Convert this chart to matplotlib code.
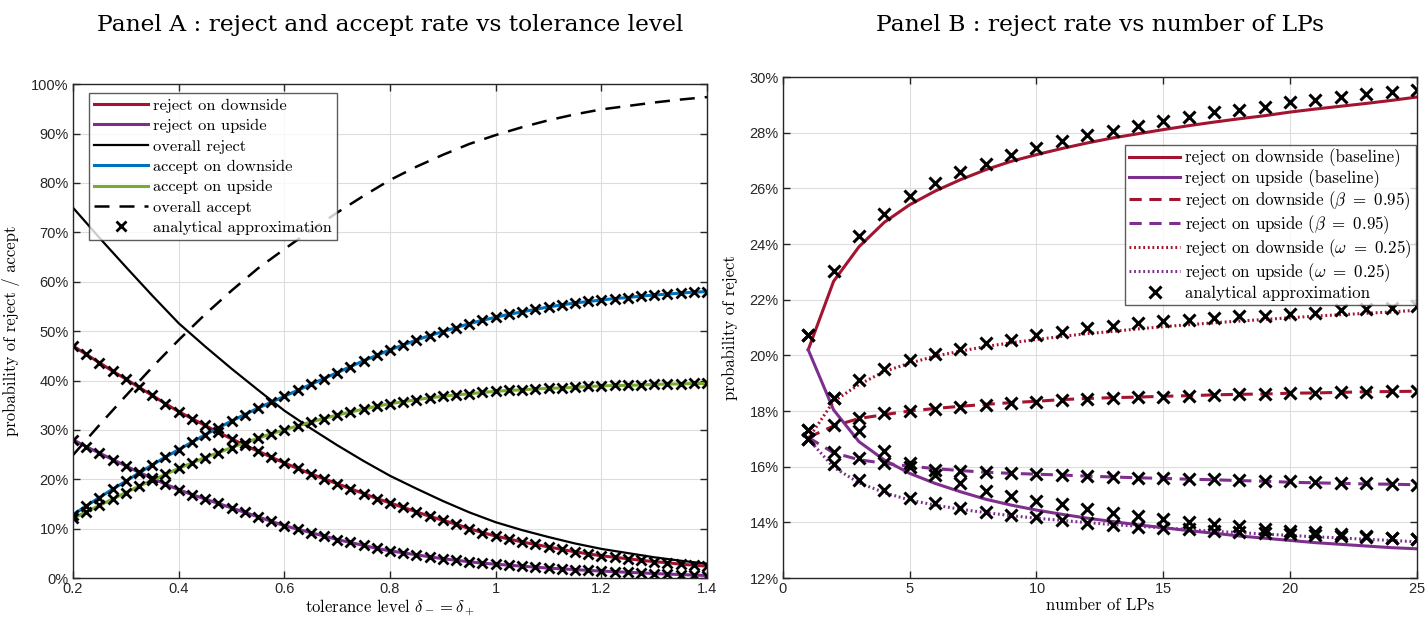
import numpy as np
import matplotlib
matplotlib.use('Agg')
import matplotlib.pyplot as plt
from matplotlib.ticker import FuncFormatter

plt.rcParams['mathtext.fontset'] = 'cm'
plt.rcParams['axes.formatter.use_mathtext'] = True

# ---- Panel A data (percent) ----
tol = [0.2 + 0.025 * i for i in range(49)]
rej_down = [47.0, 45.3, 43.6, 41.9, 40.3, 38.6, 37.0, 35.3, 33.7, 32.3, 30.9, 29.5, 28.2,
            26.9, 25.7, 24.5, 23.3, 22.2, 21.1, 20.1, 19.1, 18.1, 17.1, 16.1, 15.2, 14.3,
            13.4, 12.5, 11.7, 10.9, 10.0, 9.2, 8.5, 7.9, 7.3, 6.8, 6.3, 5.8, 5.3, 4.9,
            4.5, 4.2, 3.9, 3.6, 3.3, 3.1, 2.8, 2.6, 2.4]
rej_up = [28.0, 26.6, 25.3, 24.0, 22.7, 21.4, 20.2, 19.0, 17.9, 16.9, 16.0, 15.1, 14.2,
          13.3, 12.4, 11.5, 10.6, 9.9, 9.2, 8.5, 7.8, 7.2, 6.6, 6.0, 5.5, 5.1,
          4.7, 4.3, 3.9, 3.6, 3.3, 3.0, 2.8, 2.6, 2.4, 2.2, 2.0, 1.85, 1.7, 1.55,
          1.4, 1.3, 1.15, 1.05, 0.9, 0.8, 0.7, 0.6, 0.5]
acc_down = [12.8, 14.6, 16.3, 18.0, 19.6, 21.3, 22.9, 24.5, 26.0, 27.5, 29.0, 30.4, 31.8,
            33.1, 34.4, 35.6, 36.8, 38.0, 39.2, 40.4, 41.6, 42.8, 44.0, 45.1, 46.2, 47.2,
            48.2, 49.1, 49.9, 50.7, 51.5, 52.2, 52.8, 53.4, 53.9, 54.4, 54.9, 55.3, 55.7, 56.0,
            56.3, 56.6, 56.8, 57.1, 57.3, 57.5, 57.7, 57.9, 58.0]
acc_up = [12.1, 13.4, 14.7, 16.0, 17.3, 18.6, 19.8, 21.0, 22.2, 23.3, 24.4, 25.4, 26.4,
          27.4, 28.3, 29.2, 30.0, 30.8, 31.6, 32.3, 33.0, 33.6, 34.2, 34.8, 35.3, 35.7,
          36.1, 36.5, 36.8, 37.1, 37.3, 37.6, 37.8, 38.0, 38.1, 38.3, 38.4, 38.5, 38.6, 38.8,
          38.9, 39.0, 39.0, 39.1, 39.2, 39.3, 39.3, 39.4, 39.4]
tol_coarse = [0.2 + 0.05 * i for i in range(25)]
overall_rej = [75.0, 68.9, 63.0, 57.2, 51.6, 46.9, 42.4, 38.1, 33.9, 30.3, 26.9, 23.7, 20.7,
               18.1, 15.6, 13.3, 11.3, 9.7, 8.3, 7.0, 5.9, 5.05, 4.2, 3.5, 2.9]
overall_acc = [24.9, 31.0, 36.9, 42.7, 48.2, 53.4, 58.2, 62.7, 66.6, 70.4, 74.0, 77.4, 80.6,
               83.3, 85.7, 87.9, 89.7, 91.3, 92.7, 93.9, 94.9, 95.6, 96.3, 96.9, 97.4]

# ---- Panel B data (percent) ----
n_lp = list(range(1, 26))
down_base = [20.2, 22.66, 23.9, 24.78, 25.41, 25.9, 26.31, 26.67, 26.97, 27.21, 27.43, 27.63, 27.81,
             27.96, 28.11, 28.25, 28.38, 28.50, 28.61, 28.74, 28.85, 28.95, 29.05, 29.16, 29.28]
down_base_mk = [20.73, 23.02, 24.27, 25.09, 25.71, 26.19, 26.57, 26.87, 27.19, 27.45, 27.71, 27.92, 28.05,
                28.25, 28.43, 28.56, 28.73, 28.83, 28.92, 29.09, 29.19, 29.28, 29.40, 29.45, 29.54]
up_base = [20.2, 18.04, 16.90, 16.24, 15.76, 15.40, 15.10, 14.83, 14.62, 14.44, 14.29, 14.15, 14.03,
           13.91, 13.81, 13.70, 13.61, 13.51, 13.43, 13.35, 13.27, 13.21, 13.15, 13.09, 13.05]
up_base_mk = [20.73, 18.45, 17.28, 16.57, 16.12, 15.70, 15.40, 15.14, 14.95, 14.78, 14.65, 14.48, 14.35,
              14.23, 14.12, 14.03, 13.94, 13.87, 13.76, 13.70, 13.64, 13.57, 13.51, 13.45, 13.40]
down_beta = [17.05, 17.46, 17.73, 17.87, 18.0, 18.09, 18.17, 18.24, 18.30, 18.35, 18.41, 18.45, 18.48,
             18.50, 18.53, 18.55, 18.58, 18.60, 18.61, 18.64, 18.65, 18.67, 18.69, 18.70, 18.71]
down_beta_mk = [17.31, 17.50, 17.74, 17.92, 18.0, 18.09, 18.15, 18.22, 18.27, 18.33, 18.38, 18.42, 18.46,
                18.50, 18.52, 18.55, 18.58, 18.60, 18.62, 18.64, 18.66, 18.68, 18.70, 18.71, 18.72]
up_beta = [17.05, 16.50, 16.25, 16.12, 16.02, 15.93, 15.86, 15.80, 15.76, 15.73, 15.70, 15.66, 15.63,
           15.60, 15.58, 15.55, 15.53, 15.50, 15.48, 15.44, 15.42, 15.40, 15.38, 15.37, 15.35]
up_beta_mk = [17.31, 16.54, 16.30, 16.12, 16.00, 15.88, 15.85, 15.80, 15.76, 15.74, 15.70, 15.66, 15.63,
              15.60, 15.58, 15.56, 15.54, 15.51, 15.49, 15.47, 15.45, 15.42, 15.40, 15.38, 15.34]
down_omega = [17.0, 18.35, 18.95, 19.42, 19.72, 19.97, 20.15, 20.32, 20.45, 20.57, 20.68, 20.78, 20.86,
              20.95, 21.03, 21.10, 21.17, 21.23, 21.29, 21.35, 21.41, 21.46, 21.51, 21.56, 21.62]
down_omega_mk = [16.98, 18.45, 19.10, 19.52, 19.82, 20.06, 20.24, 20.44, 20.56, 20.72, 20.84, 20.98, 21.07,
                 21.16, 21.22, 21.28, 21.34, 21.40, 21.43, 21.49, 21.52, 21.62, 21.66, 21.70, 21.76]
up_omega = [17.0, 15.98, 15.42, 15.07, 14.80, 14.62, 14.47, 14.35, 14.24, 14.15, 14.07, 13.99, 13.92,
            13.86, 13.80, 13.74, 13.68, 13.63, 13.58, 13.53, 13.48, 13.44, 13.39, 13.35, 13.30]
up_omega_mk = [16.98, 16.09, 15.52, 15.16, 14.89, 14.68, 14.50, 14.38, 14.27, 14.18, 14.09, 13.99, 13.91,
               13.85, 13.79, 13.75, 13.70, 13.66, 13.62, 13.58, 13.55, 13.51, 13.48, 13.44, 13.40]

RED = '#A2142F'
PURPLE = '#7E2F8E'
BLUE = '#0072BD'
GREEN = '#77AC30'
TXT = 'cmr10'
TICKFONT = 'Liberation Sans'


def style_axes(ax):
    ax.grid(True, color='#dddddd', linewidth=0.8)
    ax.set_axisbelow(True)
    ax.tick_params(direction='in', top=True, right=True, length=5, width=1,
                   colors='#262626', labelsize=10.5, pad=3)
    for lab in ax.get_xticklabels() + ax.get_yticklabels():
        lab.set_fontfamily(TICKFONT)
    for s in ax.spines.values():
        s.set_color('#262626')
        s.set_linewidth(1.0)


pct = FuncFormatter(lambda v, p: '%d%%' % round(v))

fig = plt.figure(figsize=(14.26, 6.18), dpi=100)
axA = fig.add_axes([0.0512, 0.0647, 0.4446, 0.799])
axB = fig.add_axes([0.549, 0.0647, 0.4446, 0.8107])

# Panel A
axA.plot(tol, rej_down, color=RED, lw=2.2, label='reject on downside')
axA.plot(tol, rej_up, color=PURPLE, lw=2.2, label='reject on upside')
axA.plot(tol_coarse, overall_rej, color='black', lw=1.6, label='overall reject')
axA.plot(tol, acc_down, color=BLUE, lw=2.2, label='accept on downside')
axA.plot(tol, acc_up, color=GREEN, lw=2.2, label='accept on upside')
axA.plot(tol_coarse, overall_acc, color='black', lw=1.8, dashes=(6, 4), label='overall accept')
mkA = dict(ls='none', marker='x', ms=6.5, mew=2.0, color='black')
axA.plot(tol, rej_down, label='analytical approximation', **mkA)
for s in (rej_up, acc_down, acc_up):
    axA.plot(tol, s, **mkA)
axA.set_xlim(0.2, 1.4)
axA.set_ylim(0, 100)
axA.set_xticks([0.2, 0.4, 0.6, 0.8, 1.0, 1.2, 1.4])
axA.set_xticklabels(['0.2', '0.4', '0.6', '0.8', '1', '1.2', '1.4'])
axA.set_yticks(range(0, 101, 10))
axA.yaxis.set_major_formatter(pct)
style_axes(axA)
axA.set_xlabel(r'tolerance level $\delta_- = \delta_+$', fontfamily=TXT, fontsize=12, labelpad=1)
axA.set_ylabel('probability of reject / accept', fontfamily=TXT, fontsize=12, labelpad=8)
axA.set_title('Panel A : reject and accept rate vs tolerance level', fontfamily='DejaVu Serif',
              fontsize=16.8, pad=38)
legA = axA.legend(loc='upper left', bbox_to_anchor=(0.02, 0.988), prop={'family': TXT, 'size': 11.8},
                  frameon=True, fancybox=False, edgecolor='#333333', handlelength=3.3,
                  handletextpad=0.3, borderpad=0.3, labelspacing=0.36, borderaxespad=0.2)
legA.get_frame().set_linewidth(1.0)

# Panel B
axB.plot(n_lp, down_base, color=RED, lw=2.2, label='reject on downside (baseline)')
axB.plot(n_lp, up_base, color=PURPLE, lw=2.2, label='reject on upside (baseline)')
axB.plot(n_lp, down_beta, color=RED, lw=2.2, dashes=(4, 2.5), label=r'reject on downside ($\beta\ =\ 0.95$)')
axB.plot(n_lp, up_beta, color=PURPLE, lw=2.2, dashes=(4, 2.5), label=r'reject on upside ($\beta\ =\ 0.95$)')
axB.plot(n_lp, down_omega, color=RED, lw=2.2, dashes=(0.6, 0.9), label=r'reject on downside ($\omega\ =\ 0.25$)')
axB.plot(n_lp, up_omega, color=PURPLE, lw=2.2, dashes=(0.6, 0.9), label=r'reject on upside ($\omega\ =\ 0.25$)')
mkB = dict(ls='none', marker='x', ms=8, mew=2.2, color='black')
axB.plot(n_lp, down_base_mk, label='analytical approximation', **mkB)
for s in (up_base_mk, down_beta_mk, up_beta_mk, down_omega_mk, up_omega_mk):
    axB.plot(n_lp, s, **mkB)
axB.set_xlim(0, 25)
axB.set_ylim(12, 30)
axB.set_xticks([0, 5, 10, 15, 20, 25])
axB.set_yticks(range(12, 31, 2))
axB.yaxis.set_major_formatter(pct)
style_axes(axB)
axB.set_xlabel('number of LPs', fontfamily=TXT, fontsize=12, labelpad=1)
axB.set_ylabel('probability of reject', fontfamily=TXT, fontsize=12, labelpad=8)
axB.set_title('Panel B : reject rate vs number of LPs', fontfamily='DejaVu Serif',
              fontsize=16.8, pad=33)
legB = axB.legend(loc='upper right', bbox_to_anchor=(1.004, 0.872), prop={'family': TXT, 'size': 12.2},
                  frameon=True, fancybox=False, edgecolor='#333333', handlelength=3.0,
                  handletextpad=0.3, borderpad=0.25, labelspacing=0.08, borderaxespad=0.2)
legB.get_frame().set_linewidth(1.0)

fig.savefig('out.png', dpi=100)
